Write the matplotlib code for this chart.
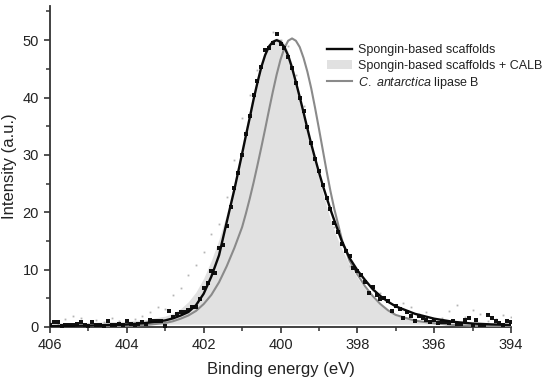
import numpy as np
import matplotlib.pyplot as plt
from matplotlib.patches import Patch
from matplotlib.lines import Line2D
from matplotlib.ticker import MultipleLocator

plt.rcParams['font.family'] = ['Liberation Sans', 'DejaVu Sans']
plt.rcParams['mathtext.fontset'] = 'custom'
plt.rcParams['mathtext.rm'] = 'Liberation Sans'
plt.rcParams['mathtext.it'] = 'Liberation Sans:italic'

# fitted curves (binding energy in eV, intensity in a.u.)
curve_x = [406.0, 405.5, 405.0, 404.5, 404.0, 403.5, 403.0, 402.8, 402.6, 402.4,
           402.2, 402.0, 401.8, 401.6, 401.4, 401.2,
           401.0, 400.9, 400.8, 400.7, 400.6, 400.5, 400.4, 400.3, 400.2, 400.1,
           400.0, 399.9, 399.8, 399.7, 399.6, 399.5, 399.4, 399.3, 399.2, 399.1,
           399.0, 398.9, 398.8, 398.7, 398.6,
           398.4, 398.2, 398.0, 397.8, 397.6, 397.4, 397.2, 397.0, 396.5, 396.0,
           395.5, 395.0, 394.5, 394.0]

spongin_fit = [0.15, 0.2, 0.25, 0.35, 0.45, 0.7, 1.15, 1.5, 2.0, 2.6,
               3.8, 5.8, 8.8, 12.5, 18.3, 24.0,
               30.2, 33.4, 36.5, 39.7, 42.6, 45.3, 47.4, 48.9, 49.7, 50.0,
               49.7, 48.8, 47.3, 45.2, 42.7, 40.1, 37.4, 34.6, 31.9, 29.4,
               27.0, 24.7, 22.6, 20.5, 18.6,
               14.9, 12.0, 9.9, 8.2, 6.6, 5.4, 4.4, 3.6, 2.3, 1.45,
               0.9, 0.6, 0.45, 0.35]

calb_fit = [0.7, 0.75, 0.8, 0.9, 1.0, 1.3, 1.9, 2.4, 3.2, 4.4,
            6.1, 8.5, 11.6, 15.3, 19.8, 25.3,
            31.5, 34.8, 38.0, 41.0, 43.7, 46.0, 47.9, 49.3, 50.1, 50.4,
            50.2, 49.4, 48.0, 45.9, 43.3, 40.5, 37.5, 34.5, 31.5, 28.7,
            26.0, 23.4, 21.0, 18.8, 16.8,
            13.5, 10.8, 8.6, 6.7, 5.1, 3.8, 2.8, 2.0, 1.1, 0.8,
            0.7, 0.65, 0.6, 0.6]

lipase_fit = [0.05, 0.08, 0.1, 0.15, 0.2, 0.35, 0.7, 1.0, 1.45, 2.0,
              2.8, 4.0, 5.6, 7.8, 10.6, 13.8,
              17.4, 19.8, 22.4, 25.2, 28.2, 31.3, 34.5, 37.8, 41.0, 44.0,
              46.6, 48.6, 49.9, 50.3, 49.9, 48.8, 46.9, 44.5, 41.6, 38.2,
              34.6, 30.9, 27.2, 23.7, 20.6,
              15.2, 11.5, 9.2, 7.1, 5.4, 4.0, 2.9, 2.1, 1.1, 0.65,
              0.35, 0.2, 0.15, 0.1]

# raw spectrum points
spongin_raw_x = [round(406.0 - 0.1 * i, 1) for i in range(121)]
spongin_raw = [0.3, 0.9, 0.8, 0.2, 0.3, 0.3, 0.4, 0.5, 0.8, 0.3,
               0.2, 0.9, 0.4, 0.3, 0.2, 1.0, 0.4, 0.3, 0.5, 0.4,
               1.0, 0.5, 0.4, 0.6, 0.8, 0.6, 1.2, 1.0, 1.1, 1.1,
               0.1, 2.8, 1.8, 2.3, 2.6, 2.7, 3.0, 3.4, 3.5, 4.8,
               6.8, 7.6, 9.8, 9.4, 13.7, 14.3, 17.6, 21.0, 24.3, 26.8,
               30.0, 33.6, 36.8, 40.4, 42.8, 45.4, 48.2, 48.7, 49.5, 51.0,
               49.3, 48.6, 47.0, 45.2, 42.6, 40.0, 37.6, 34.8, 32.0, 29.2,
               27.2, 24.8, 22.4, 20.6, 18.2, 16.6, 14.4, 13.2, 12.4, 10.2,
               9.8, 9.0, 7.9, 6.0, 6.9, 5.5, 4.8, 5.0, 4.5, 2.8,
               3.7, 3.1, 1.6, 2.6, 1.9, 1.0, 2.0, 1.5, 1.3, 0.9,
               1.2, 0.7, 0.9, 0.8, 0.75, 1.0, 0.6, 0.5, 1.3, 1.6,
               0.3, 1.3, 0.4, 0.3, 2.1, 1.6, 1.0, 0.7, 0.4, 1.0,
               0.9]

calb_raw_x = [round(406.0 - 0.2 * i, 1) for i in range(61)]
calb_raw = [0.9, 0.5, 1.4, 1.9, 1.5, 0.6, 1.2, 0.8, 1.6, 1.1,
            0.9, 1.4, 2.0, 2.6, 3.5, 3.2, 5.6, 6.8, 9.1, 10.8,
            13.1, 16.2, 18.0, 22.7, 29.1, 36.4, 40.4, 44.8, 48.5, 51.4,
            50.1, 49.0, 44.0, 38.6, 32.0, 27.0, 22.0, 17.5, 14.3, 10.6,
            9.2, 7.8, 6.4, 5.9, 4.6, 3.8, 4.2, 3.5, 2.2, 2.6,
            1.2, 1.5, 2.8, 3.8, 1.7, 3.0, 2.3, 1.1, 1.4, 2.1,
            1.8]
fill_base = 0.5

fig, ax = plt.subplots(figsize=(5.5, 3.82), dpi=100)
fig.subplots_adjust(left=0.091, right=0.929, bottom=0.144, top=0.985)

calb_fit = np.array(calb_fit)
ax.fill_between(curve_x, calb_fit, fill_base, where=calb_fit >= fill_base,
                interpolate=True, color='#e1e1e1', lw=0, zorder=1)
ax.plot(calb_raw_x, calb_raw, 's', ms=1.3, color='#b5b5b5', mew=0, zorder=2)
ax.plot(curve_x, lipase_fit, color='#8a8a8a', lw=1.5, zorder=3)
ax.plot(spongin_raw_x, spongin_raw, 's', ms=2.2, color='#111111', mew=0, zorder=4)
ax.plot(curve_x, spongin_fit, color='#0a0a0a', lw=1.7, zorder=5)

ax.set_xlim(406, 394)
ax.set_ylim(0, 56)
ax.xaxis.set_major_locator(MultipleLocator(2))
ax.xaxis.set_minor_locator(MultipleLocator(1))
ax.yaxis.set_major_locator(MultipleLocator(10))
ax.yaxis.set_minor_locator(MultipleLocator(5))
ax.tick_params(which='major', direction='out', length=4.5, width=1.2,
               labelsize=10.5, color='#333333', labelcolor='#222222')
ax.tick_params(which='minor', direction='out', length=2.8, width=1.1, color='#333333')
for s in ['top', 'right']:
    ax.spines[s].set_visible(False)
for s in ['left', 'bottom']:
    ax.spines[s].set_linewidth(1.3)
    ax.spines[s].set_color('#333333')

ax.set_xlabel('Binding energy (eV)', fontsize=12, color='#222222', labelpad=7)
ax.set_ylabel('Intensity (a.u.)', fontsize=12, color='#222222', labelpad=4)

handles = [Line2D([], [], color='#0a0a0a', lw=1.7),
           Patch(facecolor='#e1e1e1', edgecolor='none'),
           Line2D([], [], color='#8a8a8a', lw=1.5)]
labels = ['Spongin-based scaffolds', 'Spongin-based scaffolds + CALB',
          r'$\mathit{C.\ antarctica}$ lipase B']
ax.legend(handles, labels, loc='upper left', bbox_to_anchor=(0.59, 0.895),
          frameon=False, fontsize=9, handlelength=2.0, handletextpad=0.5,
          labelspacing=0.25, borderaxespad=0, labelcolor='#222222')

plt.savefig('out.png', dpi=100)
